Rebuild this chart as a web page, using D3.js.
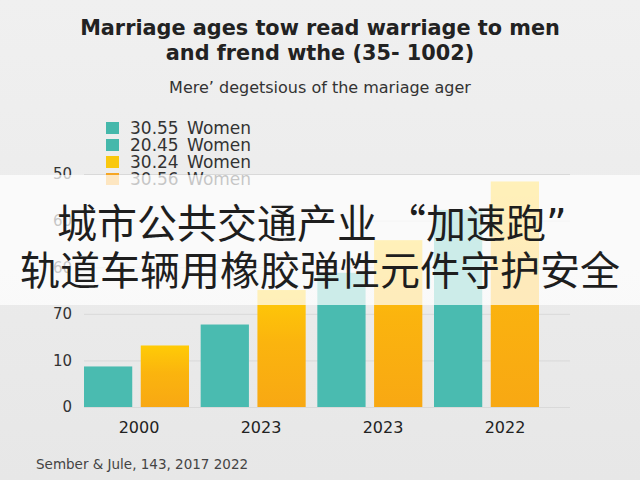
<!DOCTYPE html>
<html>
<head>
<meta charset="utf-8">
<script src="https://cdnjs.cloudflare.com/ajax/libs/d3/7.8.5/d3.min.js"></script>
<style>
  html, body { margin: 0; padding: 0; background: #ececec; }
  svg { display: block; }
</style>
</head>
<body>
<div id="chart"></div>
<script>
// data
var categories = ["2000", "2023", "2023", "2022"];
var tealValues = [8.7, 17.7, 28.8, 42.3];
var orangeValues = [13.2, 25.1, 35.8, 48.4];
var yTicks = [0, 10, 20, 30, 40, 50];
var yTickLabels = ["0", "10", "70", "60", "60", "50"];
var legendLabels = ["30.55 Women", "20.45 Women", "30.24 Women", "30.56 Women"];
var legendColors = ["#45b8ab", "#45b8ab", "#f9c80e", "#f6a623"];
var titleLines = ["Marriage ages tow read warriage to men", "and frend wthe (35- 1002)"];
var subtitle = "Mere\u2019 degetsious of the mariage ager";
var source = "Sember & Jule, 143, 2017 2022";
var bannerLines = ["城市公共交通产业 \u201c加速跑\u201d", "轨道车辆用橡胶弹性元件守护安全"];

var W = 640, H = 480;
var latin = "'DejaVu Sans', 'Open Sans', sans-serif";
var svg = d3.select("#chart").append("svg")
    .attr("width", W)
    .attr("height", H);

var defs = svg.append("defs");
var bg = defs.append("linearGradient")
    .attr("id", "bg")
    .attr("x1", 0).attr("y1", 0).attr("x2", 0).attr("y2", 1);
bg.append("stop").attr("offset", "0%").attr("stop-color", "#f0f0f0");
bg.append("stop").attr("offset", "100%").attr("stop-color", "#e7e7e7");

var og = defs.append("linearGradient")
    .attr("id", "orange")
    .attr("x1", 0).attr("y1", 0).attr("x2", 0).attr("y2", 1);
og.append("stop").attr("offset", "0%").attr("stop-color", "#ffcb06");
og.append("stop").attr("offset", "45%").attr("stop-color", "#fbb40e");
og.append("stop").attr("offset", "100%").attr("stop-color", "#f8a813");

svg.append("rect")
    .attr("width", W)
    .attr("height", H)
    .attr("fill", "url(#bg)");

// title
svg.selectAll("text.title")
    .data(titleLines)
    .enter().append("text")
    .attr("class", "title")
    .attr("x", 320)
    .attr("y", function(d, i) { return 35 + i * 25; })
    .attr("text-anchor", "middle")
    .style("font-family", latin)
    .style("font-weight", "bold")
    .style("font-size", "20.8px")
    .attr("fill", "#222")
    .text(function(d) { return d; });

svg.append("text")
    .attr("x", 320)
    .attr("y", 93)
    .attr("text-anchor", "middle")
    .style("font-family", latin)
    .style("font-size", "16px")
    .attr("fill", "#333")
    .text(subtitle);

// scales
var y = d3.scaleLinear().domain([0, 50]).range([407, 174]);

var x0 = d3.scaleBand()
    .domain(d3.range(categories.length))
    .range([84, 539])
    .paddingInner(0.1)
    .paddingOuter(0);

var x1 = d3.scaleBand()
    .domain([0, 1])
    .range([0, x0.bandwidth()])
    .paddingInner(0.15);

// x labels sit a bit off the bar pairs in the picture
var xLab = d3.scaleBand()
    .domain(d3.range(categories.length))
    .range([78, 566]);

// grid + y labels
var yAxis = svg.append("g")
    .attr("transform", "translate(84,0)")
    .call(d3.axisLeft(y)
        .tickValues(yTicks)
        .tickSize(-486)
        .tickPadding(12)
        .tickFormat(function(d, i) { return yTickLabels[i]; }));
yAxis.select(".domain").remove();
yAxis.selectAll("line")
    .attr("stroke", "#d9d9d9")
    .attr("stroke-width", 1);
yAxis.selectAll("text")
    .attr("fill", "#333")
    .style("font-family", latin)
    .style("font-size", "15px");

// bars
var groups = svg.selectAll("g.grp")
    .data(categories.map(function(c, i) { return [tealValues[i], orangeValues[i]]; }))
    .enter().append("g")
    .attr("class", "grp")
    .attr("transform", function(d, i) { return "translate(" + x0(i) + ",0)"; });

groups.selectAll("rect")
    .data(function(d) { return d; })
    .enter().append("rect")
    .attr("x", function(d, i) { return x1(i); })
    .attr("y", function(d) { return y(d); })
    .attr("width", x1.bandwidth())
    .attr("height", function(d) { return y(0) - y(d); })
    .attr("fill", function(d, i) { return i == 0 ? "#4abbb0" : "url(#orange)"; });

// legend
var legend = svg.selectAll("g.leg")
    .data(legendLabels)
    .enter().append("g")
    .attr("class", "leg")
    .attr("transform", function(d, i) { return "translate(106," + (128 + i * 17) + ")"; });
legend.append("rect")
    .attr("x", 0)
    .attr("y", -6)
    .attr("width", 13)
    .attr("height", 12)
    .attr("fill", function(d, i) { return legendColors[i]; });
legend.append("text")
    .attr("x", 24)
    .attr("y", 6)
    .attr("fill", "#333")
    .style("font-family", latin)
    .style("font-size", "17px")
    .style("word-spacing", "3px")
    .text(function(d) { return d; });

// x labels
var xAxis = svg.append("g")
    .attr("transform", "translate(0,416)")
    .call(d3.axisBottom(xLab)
        .tickSize(0)
        .tickPadding(6)
        .tickFormat(function(d) { return categories[d]; }));
xAxis.select(".domain").remove();
xAxis.selectAll("text")
    .attr("fill", "#222")
    .style("font-family", latin)
    .style("font-size", "16px");

svg.append("text")
    .attr("x", 36)
    .attr("y", 469)
    .attr("fill", "#444")
    .style("font-family", latin)
    .style("font-size", "13.5px")
    .text(source);

// white banner with the chinese headline
svg.append("rect")
    .attr("x", 0)
    .attr("y", 175)
    .attr("width", W)
    .attr("height", 130)
    .attr("fill", "#ffffff")
    .attr("fill-opacity", 0.72);

var b1 = svg.append("text")
    .attr("x", 57)
    .attr("y", 238)
    .attr("fill", "#1e1e1e")
    .style("font", "40px 'Noto Sans CJK SC', sans-serif");
b1.append("tspan").text(bannerLines[0].slice(0, -1));
b1.append("tspan")
    .style("font-family", latin)
    .text(bannerLines[0].slice(-1));

svg.append("text")
    .attr("x", 320)
    .attr("y", 285)
    .attr("text-anchor", "middle")
    .attr("fill", "#1e1e1e")
    .style("font", "40px 'Noto Sans CJK SC', sans-serif")
    .text(bannerLines[1]);
</script>
</body>
</html>
